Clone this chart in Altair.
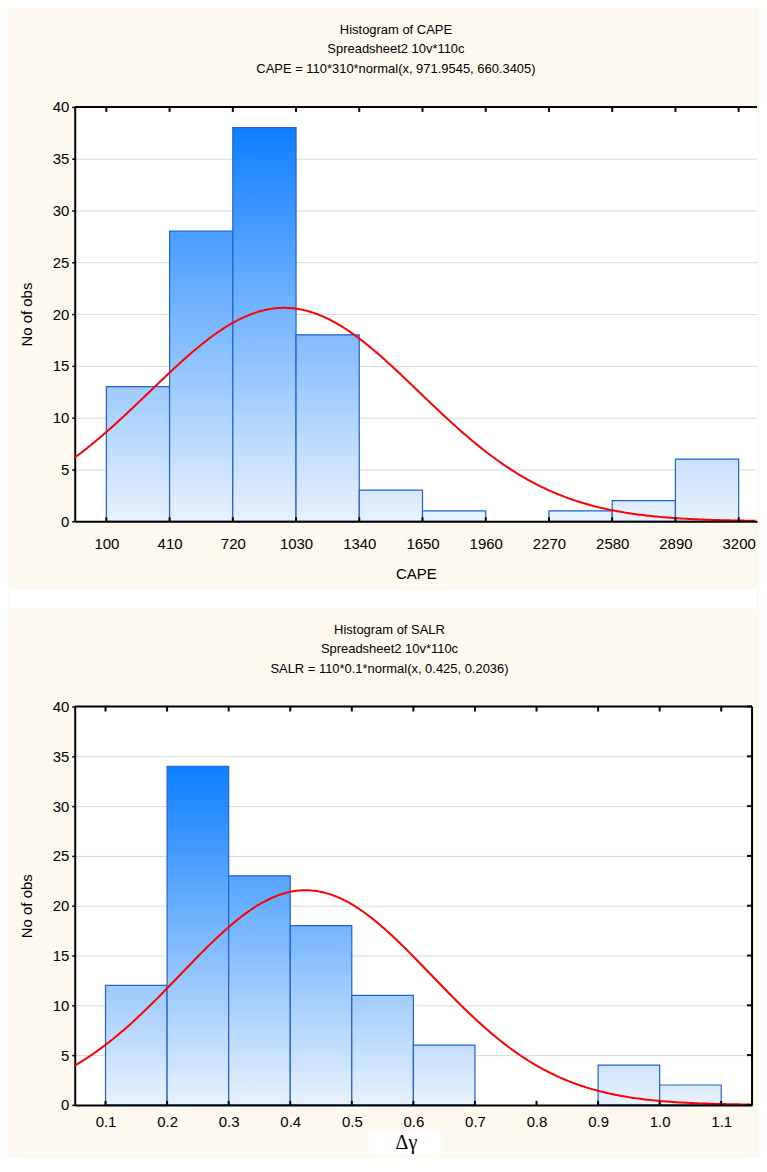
import altair as alt
import pandas as pd

# ---------------- data ----------------
cape_edges = [100, 410, 720, 1030, 1340, 1650, 1960, 2270, 2580, 2890, 3200]
cape_counts = [13, 28, 38, 18, 3, 1, 0, 1, 2, 6]
cape_fit = {"n": 110, "bw": 310, "mean": 971.9545, "sd": 660.3405}
cape_domain = [-55, 3290]

salr_edges = [0.1, 0.2, 0.3, 0.4, 0.5, 0.6, 0.7, 0.8, 0.9, 1.0, 1.1]
salr_counts = [12, 34, 23, 18, 11, 6, 0, 0, 4, 2]
salr_fit = {"n": 110, "bw": 0.1, "mean": 0.425, "sd": 0.2036}
salr_domain = [0.05, 1.15]

y_ticks = [0, 5, 10, 15, 20, 25, 30, 35, 40]

cape_title = "Histogram of CAPE"
cape_subtitle = ["Spreadsheet2 10v*110c", "CAPE = 110*310*normal(x, 971.9545, 660.3405)"]
salr_title = "Histogram of SALR"
salr_subtitle = ["Spreadsheet2 10v*110c", "SALR = 110*0.1*normal(x, 0.425, 0.2036)"]

# ---------------- style ----------------
FONT = "Liberation Sans"
CREAM = "#fdf9ee"
EDGE = "#2160d4"
LIGHT = (232, 242, 253)
DARK = (14, 126, 255)


def mix(f):
    r = [round(LIGHT[k] + (DARK[k] - LIGHT[k]) * f) for k in range(3)]
    return "#%02x%02x%02x" % tuple(r)


def gradient(f):
    return alt.Gradient(
        gradient="linear",
        stops=[alt.GradientStop(color=mix(f), offset=0),
               alt.GradientStop(color=mix(0), offset=1)],
        x1=0, x2=0, y1=0, y2=1,
    )


def panel(edges, counts, fit, domain, fmt, W, H, title, subtitle, xtitle,
          label_pad, title_pad, dx, gap=None, box=None, sym=None, right_frame=True):
    xscale = alt.Scale(domain=domain, nice=False, zero=False)
    yscale = alt.Scale(domain=[0, 40], nice=False)
    xkw = dict(values=edges, format=fmt, grid=False, ticks=False,
               labelPadding=label_pad, zindex=1, labelFlush=False)
    if xtitle is not None:
        xkw.update(title=xtitle, titlePadding=title_pad)
    else:
        xkw.update(title=None)
    xaxis = alt.Axis(**xkw)
    yaxis = alt.Axis(values=y_ticks, title="No of obs", grid=True, tickSize=3,
                     labelPadding=3, titlePadding=18, labelFlush=False)
    X = lambda f: alt.X(f, scale=xscale, axis=xaxis)
    Y = lambda f: alt.Y(f, scale=yscale, axis=yaxis)

    layers = []
    mx = max(counts)
    for i, c in enumerate(counts):
        if c == 0:
            continue
        df = pd.DataFrame({"lo": [edges[i]], "hi": [edges[i + 1]], "n": [c]})
        layers.append(
            alt.Chart(df).mark_bar(fill=gradient(c / mx), stroke=EDGE, strokeWidth=1.2)
            .encode(x=X("lo:Q"), x2="hi:Q", y=Y("n:Q"), y2=alt.datum(0))
        )

    step = (domain[1] - domain[0]) / 400
    curve = (
        alt.Chart(alt.sequence(domain[0], domain[1], step, as_="x"))
        .transform_calculate(
            y=f"{fit['n']}*{fit['bw']}*densityNormal(datum.x, {fit['mean']}, {fit['sd']})"
        )
        .mark_line(color="#ff0000", strokeWidth=2, clip=True)
        .encode(x=X("x:Q"), y=Y("y:Q"))
    )
    layers.append(curve)

    one = pd.DataFrame({"a": [0]})
    tdf = pd.DataFrame({"t": edges})
    layers.append(alt.Chart(one).mark_rule(color="black", strokeWidth=2)
                  .encode(x=alt.value(0), x2=alt.value(W), y=alt.value(0)))
    layers.append(alt.Chart(tdf).mark_rule(color="black", strokeWidth=2)
                  .encode(x=X("t:Q"), y=alt.value(0), y2=alt.value(5)))
    layers.append(alt.Chart(tdf).mark_rule(color="black", strokeWidth=2)
                  .encode(x=X("t:Q"), y=alt.value(H - 4), y2=alt.value(H)))
    if right_frame:
        ydf = pd.DataFrame({"v": y_ticks})
        layers.append(alt.Chart(one).mark_rule(color="black", strokeWidth=2)
                      .encode(x=alt.value(W), y=alt.value(0), y2=alt.value(H)))
        layers.append(alt.Chart(ydf).mark_rule(color="black", strokeWidth=2)
                      .encode(y=Y("v:Q"), x=alt.value(W - 5), x2=alt.value(W)))

    if gap is not None:
        layers.append(alt.Chart(one).mark_rect(fill=gap[4], clip=False)
                      .encode(x=alt.value(gap[0]), x2=alt.value(gap[1]),
                              y=alt.value(gap[2]), y2=alt.value(gap[3])))
    if box is not None:
        layers.append(alt.Chart(one).mark_rect(fill="white", clip=False)
                      .encode(x=alt.value(box[0]), x2=alt.value(box[1]),
                              y=alt.value(box[2]), y2=alt.value(box[3])))
    if sym is not None:
        layers.append(alt.Chart(one).mark_text(text=sym[0], font="Liberation Serif",
                                               fontSize=20, color="black", align="center",
                                               baseline="middle", clip=False)
                      .encode(x=alt.value(sym[1]), y=alt.value(sym[2])))

    return alt.layer(*layers).properties(
        width=W, height=H,
        view=alt.ViewBackground(fill="white", stroke="transparent"),
        title=alt.TitleParams(
            text=title, subtitle=subtitle, anchor="middle", frame="group", dx=dx,
            font=FONT, subtitleFont=FONT, fontSize=13, subtitleFontSize=13,
            fontWeight="normal", color="black", subtitleColor="black",
            subtitlePadding=6, subtitleLineHeight=20, offset=24,
        ),
    )


top = panel(cape_edges, cape_counts, cape_fit, cape_domain, "d", 685, 416,
            cape_title, cape_subtitle, "CAPE", 15, 15, -20,
            gap=(-66, 685, 484, 504, "white"), right_frame=False)
bottom = panel(salr_edges, salr_counts, salr_fit, salr_domain, ".1f", 680, 400,
               salr_title, salr_subtitle, None, 10, 0, -24,
               gap=(-66, -62, 0, 2, CREAM), box=(295, 368, 426, 450),
               sym=("Δγ", 333, 438))

chart = (
    alt.vconcat(top, bottom, spacing=13)
    .configure(background=CREAM, padding={"left": 0, "top": 13, "right": 0, "bottom": 0})
    .configure_axis(labelFont=FONT, labelFontSize=15, labelColor="black",
                    titleFont=FONT, titleFontSize=15, titleColor="black",
                    titleFontWeight="normal", domainColor="black", domainWidth=2,
                    tickColor="black", tickWidth=1.5, gridColor="#d9d9d9", gridWidth=1)
)

chart.save("out.html", embed_options={"renderer": "svg", "actions": False})
